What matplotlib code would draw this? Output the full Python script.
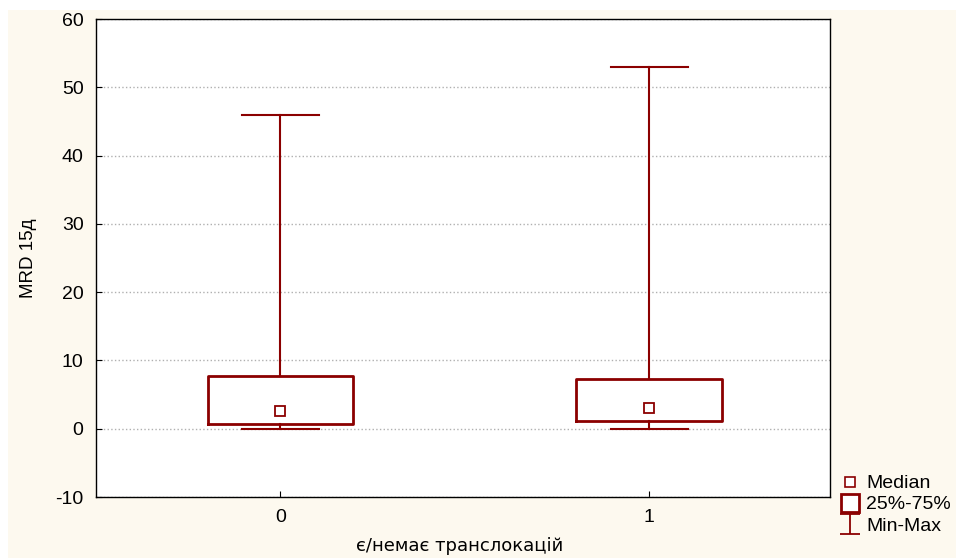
import matplotlib.pyplot as plt
from matplotlib.lines import Line2D
from matplotlib.path import Path
from matplotlib.patches import Rectangle

plt.rcParams['font.family'] = ['Liberation Sans', 'DejaVu Sans']
plt.rcParams['axes.unicode_minus'] = False

# data
groups = ['0', '1']
mins = [0.0, 0.0]
q1s = [0.7, 1.2]
medians = [2.6, 3.0]
q3s = [7.7, 7.3]
maxs = [46.0, 52.9]

red = '#8b0000'
cream = '#fdf9ef'
fs = 14

fig = plt.figure(figsize=(9.56, 5.58), dpi=100, facecolor='white')
fig.patches.append(Rectangle((8 / 956, 0), 1, 1 - 10 / 558, transform=fig.transFigure,
                             facecolor=cream, edgecolor='none', zorder=-10))
ax = fig.add_axes([96 / 956, 1 - 497 / 558, 734 / 956, 478 / 558])
ax.set_facecolor('white')

stats = []
for i, g in enumerate(groups):
    stats.append({'label': g, 'whislo': mins[i], 'q1': q1s[i], 'med': medians[i],
                  'q3': q3s[i], 'whishi': maxs[i], 'fliers': []})

pos = list(range(len(groups)))
ax.bxp(stats, positions=pos, widths=0.395, capwidths=0.21, showfliers=False,
       boxprops=dict(color=red, linewidth=2),
       whiskerprops=dict(color=red, linewidth=1.5),
       capprops=dict(color=red, linewidth=1.5),
       medianprops=dict(linewidth=0), zorder=3)
ax.plot(pos, medians, linestyle='none', marker='s', markersize=7,
        markerfacecolor='white', markeredgecolor=red, markeredgewidth=1.3, zorder=4)

ax.set_xlim(-0.5, 1.49)
ax.set_ylim(-10, 60)
ax.set_yticks(range(-10, 61, 10))
ax.set_xticks(pos)
ax.set_xticklabels(groups)
ax.tick_params(direction='in', length=4, labelsize=fs, colors='black')
ax.tick_params(axis='y', pad=9)
ax.tick_params(axis='x', pad=9)
ax.yaxis.grid(True, linestyle=':', color='#b0b0b0', linewidth=1)
ax.set_axisbelow(True)
for s in ax.spines.values():
    s.set_linewidth(1)

ax.set_ylabel('MRD 15д', fontsize=13.5)
ax.set_xlabel('є/немає транслокацій', fontsize=13, family=['DejaVu Sans'])
ax.yaxis.set_label_coords(-0.08, 0.5)
ax.xaxis.set_label_coords(0.496, -0.083)

imark = Path([(-1, 1), (1, 1), (0, 1), (0, -1), (-1, -1), (1, -1)],
             [Path.MOVETO, Path.LINETO, Path.MOVETO, Path.LINETO, Path.MOVETO, Path.LINETO])
handles = [
    Line2D([], [], linestyle='none', marker='s', markersize=7, markerfacecolor='white',
           markeredgecolor=red, markeredgewidth=1.2),
    Line2D([], [], linestyle='none', marker='s', markersize=13, markerfacecolor='white',
           markeredgecolor=red, markeredgewidth=2),
    Line2D([], [], linestyle='none', marker=imark, markersize=14, markerfacecolor='none',
           markeredgecolor=red, markeredgewidth=1.3),
]
leg = fig.legend(handles, ['Median', '25%-75%', 'Min-Max'], loc='upper left',
                 bbox_to_anchor=(831 / 956, 1 - 465 / 558), frameon=False, fontsize=fs,
                 handlelength=1.0, handletextpad=0.3, labelspacing=0.18, borderpad=0)

fig.savefig('out.png', dpi=100, facecolor=fig.get_facecolor())
